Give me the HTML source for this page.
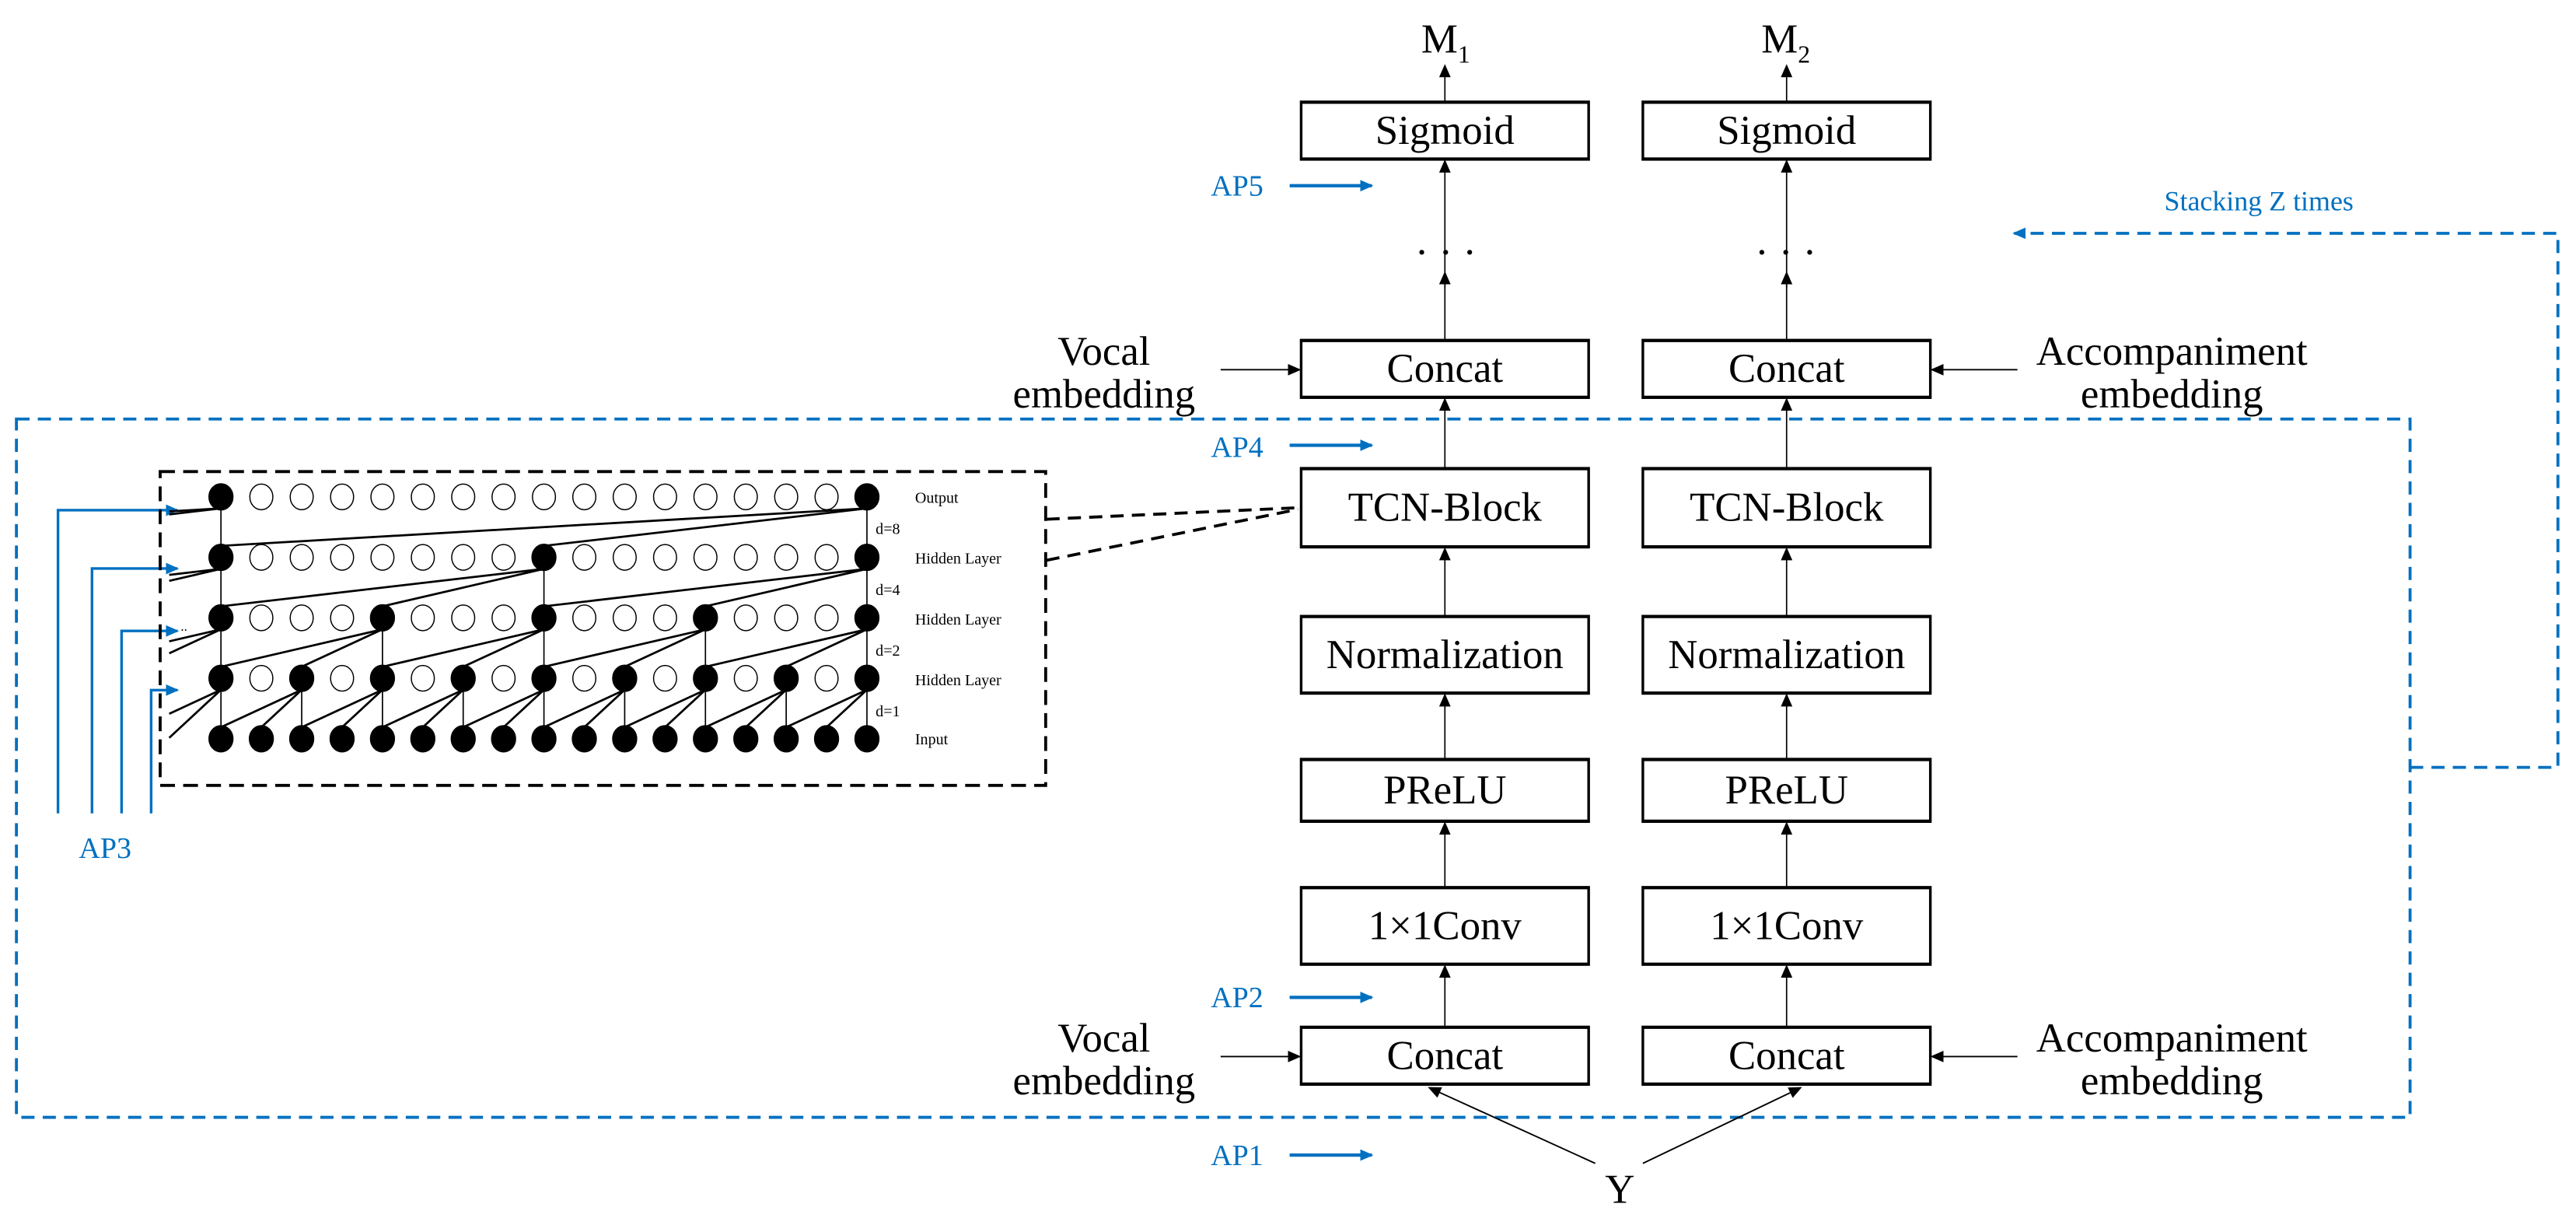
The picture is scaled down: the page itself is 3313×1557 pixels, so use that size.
<!DOCTYPE html>
<html><head><meta charset="utf-8"><style>
html,body{margin:0;padding:0;background:#fff;}
svg{display:block;}
text{font-family:"Liberation Serif",serif;}
</style></head><body>
<svg id="s" width="3313" height="1557" viewBox="0 0 1568 737" preserveAspectRatio="none" xmlns="http://www.w3.org/2000/svg">
<defs>
<marker id="ak" markerWidth="8" markerHeight="8" refX="7" refY="4" orient="auto" markerUnits="userSpaceOnUse"><path d="M0,0.5 L8,4 L0,7.5 Z" fill="#000"/></marker>
<marker id="ab" markerWidth="8" markerHeight="8" refX="7" refY="4" orient="auto" markerUnits="userSpaceOnUse"><path d="M0,0.5 L8,4 L0,7.5 Z" fill="#0070C0"/></marker>
</defs>
<rect width="1568" height="737" fill="#fff"/>

<!-- blue dashed big rect -->
<rect x="10" y="255" width="1457" height="425" fill="none" stroke="#0070C0" stroke-width="1.8" stroke-dasharray="8,5"/>
<!-- stacking loop -->
<polyline points="1467,467 1557,467 1557,142 1226,142" fill="none" stroke="#0070C0" stroke-width="1.8" stroke-dasharray="8,5" marker-end="url(#ab)"/>
<text x="1375" y="128" font-size="17" fill="#0070C0" text-anchor="middle">Stacking Z times</text>

<g id="main" stroke="#000" fill="none"></g>

<!-- AP labels -->
<g fill="#0070C0" font-size="18">
<text x="737" y="119">AP5</text>
<text x="737" y="278">AP4</text>
<text x="737" y="613">AP2</text>
<text x="737" y="709">AP1</text>
<text x="48" y="522">AP3</text>
</g>
<g stroke="#0070C0" stroke-width="2" marker-end="url(#ab)">
<line x1="785" y1="113" x2="835" y2="113"/>
<line x1="785" y1="271" x2="835" y2="271"/>
<line x1="785" y1="607" x2="835" y2="607"/>
<line x1="785" y1="703" x2="835" y2="703"/>
</g>
<g stroke="#0070C0" stroke-width="1.6" fill="none">
<polyline points="35.3,495 35.3,310.5 108,310.5" marker-end="url(#ab)"/>
<polyline points="56,495 56,346 108,346" marker-end="url(#ab)"/>
<polyline points="74,495 74,384 108,384" marker-end="url(#ab)"/>
<polyline points="92,495 92,420 108,420" marker-end="url(#ab)"/>
</g>

<!-- inset box -->
<rect x="97.5" y="287" width="539" height="191" fill="none" stroke="#000" stroke-width="1.8" stroke-dasharray="9,5"/>
<line x1="637" y1="316" x2="790" y2="309" stroke="#000" stroke-width="1.8" stroke-dasharray="8,5"/>
<line x1="637" y1="341" x2="790" y2="310" stroke="#000" stroke-width="1.8" stroke-dasharray="8,5"/>
<g id="tcn"></g>
<g font-size="9.5" fill="#000">
<text x="557" y="306">Output</text>
<text x="557" y="343">Hidden Layer</text>
<text x="557" y="380">Hidden Layer</text>
<text x="557" y="417">Hidden Layer</text>
<text x="557" y="453">Input</text>
<text x="533" y="325">d=8</text>
<text x="533" y="362">d=4</text>
<text x="533" y="399">d=2</text>
<text x="533" y="436">d=1</text>
<text x="110" y="384" font-size="8">..</text>
</g>

<g font-size="25" fill="#000" text-anchor="middle">
<text x="880" y="32">M<tspan font-size="15" dy="6">1</tspan></text>
<text x="1087" y="32">M<tspan font-size="15" dy="6">2</tspan></text>
<text x="880" y="162">· · ·</text>
<text x="1087" y="162">· · ·</text>
<text x="672" y="222">Vocal</text>
<text x="672" y="248">embedding</text>
<text x="672" y="640">Vocal</text>
<text x="672" y="666">embedding</text>
<text x="1322" y="222">Accompaniment</text>
<text x="1322" y="248">embedding</text>
<text x="1322" y="640">Accompaniment</text>
<text x="1322" y="666">embedding</text>
<text x="986" y="732">Y</text>
</g>
</svg>
<script>
var NS="http://www.w3.org/2000/svg";
function el(p,t,a,txt){var e=document.createElementNS(NS,t);for(var k in a)e.setAttribute(k,a[k]);if(txt)e.textContent=txt;p.appendChild(e);return e;}
var m=document.getElementById('main');
var cols=[[792,967],[1000,1175]];
var boxes=[[62,97,'Sigmoid'],[207,242,'Concat'],[285,333,'TCN-Block'],[375,422,'Normalization'],[462,500,'PReLU'],[540,587,'1×1Conv'],[625,660,'Concat']];
cols.forEach(function(c,ci){
  var cx=(c[0]+c[1])/2;
  boxes.forEach(function(b){
    el(m,'rect',{x:c[0],y:b[0],width:c[1]-c[0],height:b[1]-b[0],'stroke-width':1.6,fill:'#fff'});
    el(m,'line',{x1:c[0],y1:b[0]+0.6,x2:c[1],y2:b[0]+0.6,'stroke-width':1.2});
    el(m,'line',{x1:c[0],y1:b[1]-0.6,x2:c[1],y2:b[1]-0.6,'stroke-width':1.2});
    el(m,'text',{x:cx,y:(b[0]+b[1])/2+8,'font-size':25,'text-anchor':'middle',fill:'#000',stroke:'none'},b[2]);
  });
  var arr=[[62,40],[175,98],[207,166],[285,243],[375,334],[462,423],[540,501],[625,588]];
  arr.forEach(function(a){el(m,'line',{x1:cx,y1:a[0],x2:cx,y2:a[1],'stroke-width':0.8,'marker-end':'url(#ak)'});});
});
[[225],[643]].forEach(function(y){
  el(m,'line',{x1:743,y1:y[0],x2:791,y2:y[0],'stroke-width':0.9,'marker-end':'url(#ak)'});
  el(m,'line',{x1:1228,y1:y[0],x2:1176,y2:y[0],'stroke-width':0.9,'marker-end':'url(#ak)'});
});
el(m,'line',{x1:971,y1:708,x2:870,y2:662,'stroke-width':0.9,'marker-end':'url(#ak)'});
el(m,'line',{x1:1000,y1:708,x2:1096,y2:662,'stroke-width':0.9,'marker-end':'url(#ak)'});

var t=document.getElementById('tcn');
var X0=134.5,DX=24.575,RY=[302.4,339.2,376,412.8,449.6],rx=7.3,ry=8;
function filled(r,i){if(r==4)return true;if(r==3)return i%2==0;if(r==2)return i%4==0;if(r==1)return i%8==0;return i==0||i==16;}
var ds=[8,4,2,1];
for(var r=0;r<4;r++){
  for(var i=0;i<17;i++){ if(!filled(r,i))continue;
    var d=ds[r];
    for(var k=0;k<3;k++){
      var j=i-k*d;
      var x1=X0+i*DX,y1=RY[r]+ry-1,x2=X0+j*DX,y2=RY[r+1]-ry+1;
      if(j<0){var lim=103;var f=(x1-lim)/(x1-x2);x2=lim;y2=y1+(y2-y1)*f;}
      el(t,'line',{x1:x1,y1:y1,x2:x2,y2:y2,stroke:'#000','stroke-width':(k==0?0.8:1.3)});
    }
  }
}
for(var r=0;r<5;r++)for(var i=0;i<17;i++){
  var f=filled(r,i);
  el(t,'ellipse',{cx:X0+i*DX,cy:RY[r],rx:f?rx:7,ry:f?ry:7.8,fill:f?'#000':'#fff',stroke:'#000','stroke-width':0.7});
}
</script>
</body></html>
